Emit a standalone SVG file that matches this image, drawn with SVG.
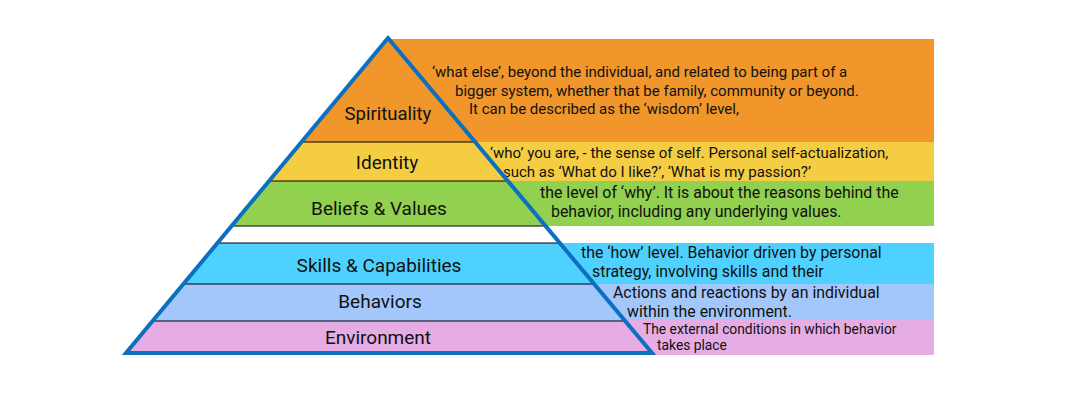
<svg xmlns="http://www.w3.org/2000/svg" width="1088" height="400" viewBox="0 0 1088 400">
<style>
.lbl{font-family:Roboto,"Liberation Sans",sans-serif;font-size:19px;fill:#111;text-anchor:middle}
.dsc{font-family:Roboto,"Liberation Sans",sans-serif;font-size:15px;fill:#111}
.lg{font-size:15.9px}
.sm{font-size:13.8px}
.sep{stroke:#000;stroke-width:1.2}
</style>
<rect width="1088" height="400" fill="#fff"/>
<g id="spirituality">
<rect x="388" y="39" width="546" height="103" fill="#F0962A"/>
<polygon points="388,38 475.7,142 300.9,142" fill="#F0962A"/>
<text class="lbl" x="388" y="120" style="font-size:18.5px">Spirituality</text>
<text class="dsc" x="432" y="77">‘what else’, beyond the individual, and related to being part of a</text>
<text class="dsc" x="455" y="96">bigger system, whether that be family, community or beyond.</text>
<text class="dsc" x="469" y="114">It can be described as the ‘wisdom’ level,</text>
</g>
<g id="identity">
<rect x="470" y="142" width="464" height="39" fill="#F5CD42"/>
<polygon points="300.9,142 475.7,142 508.3,181 268.6,181" fill="#F5CD42"/>
<text class="lbl" x="387" y="169">Identity</text>
<text class="dsc" x="490" y="158">‘who’ you are, - the sense of self. Personal self-actualization,</text>
<text class="dsc" x="503" y="177">such as ‘What do I like?’, ‘What is my passion?’</text>
</g>
<g id="beliefs">
<rect x="505" y="181" width="429" height="45" fill="#92D050"/>
<polygon points="268.6,181 508.3,181 545.9,226 231.3,226" fill="#92D050"/>
<text class="lbl" x="379" y="215">Beliefs &amp; Values</text>
<text class="dsc lg" x="540" y="198">the level of ‘why’. It is about the reasons behind the</text>
<text class="dsc lg" x="551" y="217">behavior, including any underlying values.</text>
</g>
<g id="blank">
<polygon points="231.3,226 545.9,226 560.1,243 217.2,243" fill="#fff"/>
</g>
<g id="skills">
<rect x="556" y="243" width="378" height="41" fill="#4FD1FF"/>
<polygon points="217.2,243 560.1,243 594.3,284 183.2,284" fill="#4FD1FF"/>
<text class="lbl" x="379" y="272">Skills &amp; Capabilities</text>
<text class="dsc lg" x="581" y="258">the ‘how’ level. Behavior driven by personal</text>
<text class="dsc lg" x="592" y="277">strategy, involving skills and their</text>
</g>
<g id="behaviors">
<rect x="590" y="284" width="344" height="36" fill="#A3C6FB"/>
<polygon points="183.2,284 594.3,284 625.3,321 152.5,321" fill="#A3C6FB"/>
<text class="lbl" x="380" y="308">Behaviors</text>
<text class="dsc lg" x="613" y="298">Actions and reactions by an individual</text>
<text class="dsc lg" x="627" y="317">within the environment.</text>
</g>
<g id="environment">
<rect x="620" y="320" width="314" height="35" fill="#E6ACE4"/>
<polygon points="152.5,321 625.3,321 652,353 126,353" fill="#E6ACE4"/>
<text class="lbl" x="378" y="344">Environment</text>
<text class="dsc sm" x="643" y="334">The external conditions in which behavior</text>
<text class="dsc sm" x="657" y="350">takes place</text>
</g>
<g id="connectors">
<line class="sep" x1="300.9" y1="142" x2="475.7" y2="142"/>
<line class="sep" x1="268.6" y1="181" x2="508.3" y2="181"/>
<line class="sep" x1="231.3" y1="226" x2="545.9" y2="226"/>
<line class="sep" x1="217.2" y1="243" x2="560.1" y2="243"/>
<line class="sep" x1="183.2" y1="284" x2="594.3" y2="284"/>
<line class="sep" x1="152.5" y1="321" x2="625.3" y2="321"/>
<polygon points="388,38 652,353 126,353" fill="none" stroke="#0B70C0" stroke-width="4"/>
</g>
</svg>
